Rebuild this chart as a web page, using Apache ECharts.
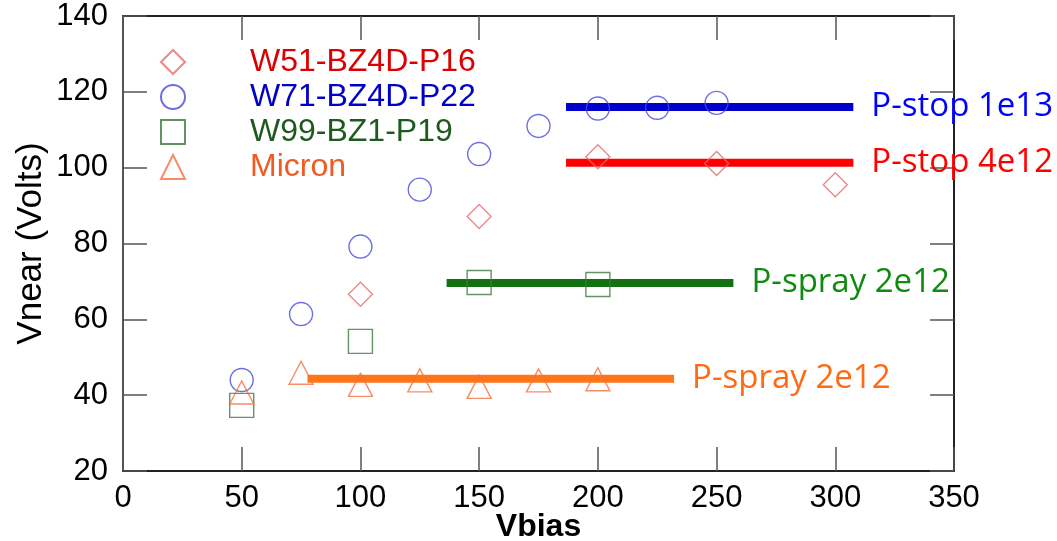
<!DOCTYPE html>
<html style="height: 100%">
<head>
	<meta charset="utf-8">
</head>
<body style="height: 100%; margin: 0; background: #fff">
<div id="container" style="width: 1057px; height: 541px"></div>
<script src="https://cdn.jsdelivr.net/npm/echarts@6/dist/echarts.min.js"></script>
<script type="text/javascript">
	// measured points, [Vbias, Vnear]
	var w51 = [[100, 66.6], [150, 87.1], [200, 102.9], [250, 101.1], [300, 95.5]];
	var w71 = [[50, 44.0], [75, 61.4], [100, 79.2], [125, 94.2], [150, 103.6], [175, 111.0], [200, 115.6], [225, 115.8], [250, 117.1]];
	var w99 = [[50, 37.3], [100, 54.2], [150, 69.7], [200, 69.2]];
	var micron = [[50, 40.7], [75, 45.9], [100, 42.7], [125, 43.9], [150, 42.2], [175, 43.9], [200, 44.2]];

	var seriesNames = ['W51-BZ4D-P16', 'W71-BZ4D-P22', 'W99-BZ1-P19', 'Micron'];

	// horizontal reference bars
	var barNames = ['P-stop 1e13', 'P-stop 4e12', 'P-spray 2e12', 'P-spray 2e12'];
	var barLevel = [116.0, 101.3, 69.6, 44.3];
	var barFrom = [186.6, 186.6, 136.3, 77.7];
	var barTo = [307.6, 307.6, 257.1, 232.1];

	var xTicks = [0, 50, 100, 150, 200, 250, 300, 350];
	var yTicks = [20, 40, 60, 80, 100, 120, 140];

	var barColors = ['#0000cc', '#ff0000', '#137013', '#ff7518'];
	var barTextColors = ['#0000ff', '#ff0000', '#108a10', '#ff6a13'];
	var legendColors = ['#dc0000', '#0000c8', '#1e5a1e', '#f05a23'];

	var dom = document.getElementById('container');
	var myChart = echarts.init(dom);

	var tickFont = 'Liberation Sans';
	var boxAxis = function (pos, isX) {
		var ax = {
			type: 'value',
			position: pos,
			min: isX ? xTicks[0] : yTicks[0],
			max: isX ? xTicks[xTicks.length - 1] : yTicks[yTicks.length - 1],
			interval: isX ? 50 : 20,
			axisLine: {show: true, onZero: false, lineStyle: {color: '#222', width: 2}},
			axisTick: {show: true, inside: true, length: 24, lineStyle: {color: '#555', width: 1.5}},
			axisLabel: {show: false},
			splitLine: {show: false}
		};
		return ax;
	};

	var xMain = boxAxis('bottom', true);
	xMain.axisLabel = {show: true, margin: 12, color: '#000', fontSize: 31, fontFamily: tickFont};
	xMain.name = 'Vbias';
	xMain.nameLocation = 'middle';
	xMain.nameGap = 40;
	xMain.nameMoveOverlap = false;
	xMain.nameTextStyle = {color: '#000', fontSize: 32, fontWeight: 'bold', fontFamily: tickFont};

	var yMain = boxAxis('left', false);
	yMain.axisLine.lineStyle.color = '#555';
	yMain.axisLabel = {show: true, margin: 15, color: '#000', fontSize: 31, fontFamily: tickFont};
	yMain.name = 'Vnear (Volts)';
	yMain.nameLocation = 'middle';
	yMain.nameGap = 74;
	yMain.nameMoveOverlap = false;
	yMain.nameTextStyle = {color: '#000', fontSize: 35, fontFamily: tickFont};

	var series = [];
	for (var i = 0; i < barNames.length; i++) {
		series.push({
			name: 'bar' + i,
			type: 'line',
			data: [[barFrom[i], barLevel[i]], [barTo[i], barLevel[i]]],
			symbol: 'none',
			silent: true,
			z: 1,
			lineStyle: {color: barColors[i], width: 8},
			endLabel: {
				show: true,
				distance: 18,
				formatter: barNames[i],
				color: barTextColors[i],
				fontSize: 33,
				fontFamily: 'Open Sans'
			}
		});
	}

	var markers = [
		{data: w51, symbol: 'diamond', size: 24, color: '#e86a6a'},
		{data: w71, symbol: 'circle', size: 23, color: '#4848e0'},
		{data: w99, symbol: 'rect', size: 24, color: '#3c783c'},
		{data: micron, symbol: 'triangle', size: [24, 23], color: '#f27040'}
	];
	for (var j = 0; j < markers.length; j++) {
		series.push({
			name: seriesNames[j],
			type: 'scatter',
			data: markers[j].data,
			symbol: markers[j].symbol,
			symbolSize: markers[j].size,
			z: 3,
			itemStyle: {color: 'rgba(255,255,255,0)', borderColor: markers[j].color, borderWidth: 1.4}
		});
	}

	var legendData = [];
	for (var k = 0; k < seriesNames.length; k++) {
		legendData.push({name: seriesNames[k], textStyle: {color: legendColors[k]}});
	}

	var option = {
		animation: false,
		grid: {left: 123, right: 103, top: 16, bottom: 70, outerBoundsMode: 'none'},
		legend: {
			data: legendData,
			orient: 'vertical',
			left: 155,
			top: 41,
			itemWidth: 24,
			itemHeight: 24,
			itemGap: 3,
			textStyle: {fontSize: 32, fontFamily: tickFont, padding: [0, 0, 0, 60]}
		},
		xAxis: [xMain, boxAxis('top', true)],
		yAxis: [yMain, boxAxis('right', false)],
		series: series
	};

	myChart.setOption(option, true);
</script>
</body>
</html>
